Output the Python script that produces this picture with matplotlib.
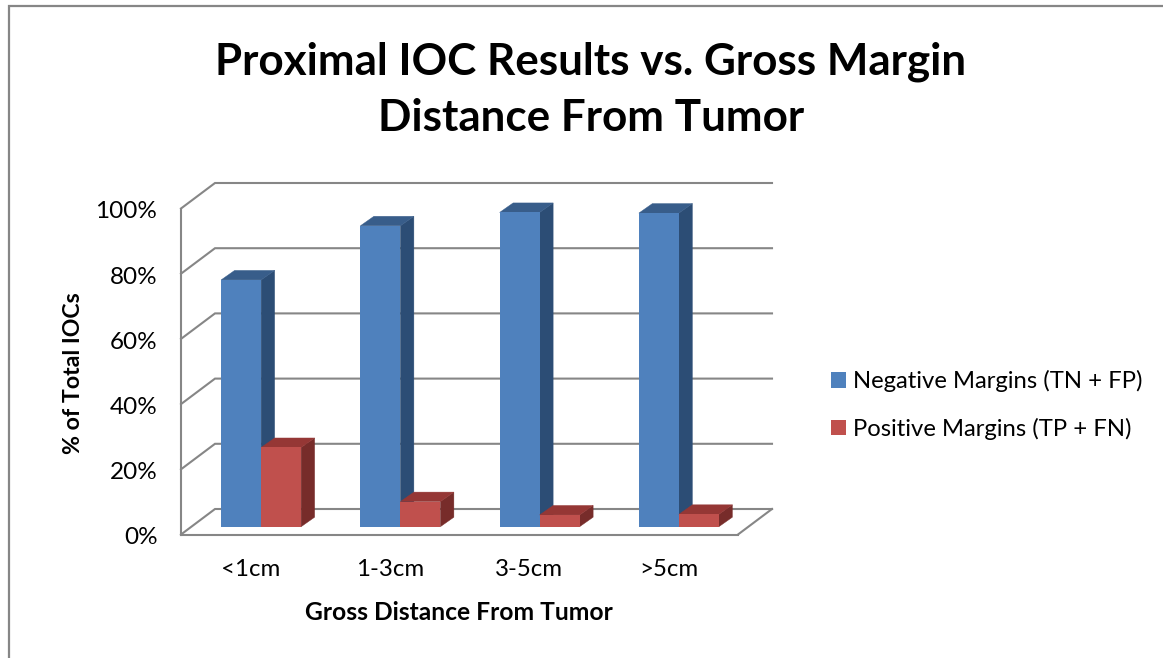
import matplotlib
matplotlib.use('Agg')
import matplotlib.pyplot as plt
from matplotlib.lines import Line2D
from matplotlib.patches import Polygon
from matplotlib.transforms import Affine2D

plt.rcParams['font.family'] = ['Lato', 'DejaVu Sans']

categories = ['<1cm', '1-3cm', '3-5cm', '>5cm']
negative = [75.7, 92.3, 96.4, 96.2]
positive = [24.3, 7.7, 3.6, 3.8]
y_ticks = [0, 20, 40, 60, 80, 100]
neg_label = 'Negative Margins (TN + FP)'
pos_label = 'Positive Margins (TP + FN)'

W, H = 1163, 658
GREY = '#868686'

fig = plt.figure(figsize=(W / 100, H / 100), dpi=100, facecolor='white')

# axes = the front plane of the fake 3d box
left, right, bottom, top = 181, 738, 534.5, 208.5
ax = fig.add_axes([left / W, 1 - bottom / H, (right - left) / W, (bottom - top) / H])
ax.set_xlim(-0.5, 3.5)
ax.set_ylim(0, 100)
px_x = 4 / (right - left)
px_y = 100 / (bottom - top)

# depth offsets, pixels to data units
wall_dx, wall_dy = 34 * px_x, 25.5 * px_y
bar_dx, bar_dy = 10.5 * px_x, 7.8 * px_y
deep_x, deep_y = 13.5 * px_x, 9.5 * px_y
bar_w = 40 * px_x

for t in y_ticks:
    ax.plot([-0.5, -0.5 + wall_dx, 3.5 + wall_dx], [t, t + wall_dy, t + wall_dy],
            color=GREY, lw=1.5, clip_on=False, zorder=1, solid_joinstyle='miter')
ax.plot([3.5, 3.5 + wall_dx], [0, wall_dy], color=GREY, lw=1.5, clip_on=False, zorder=1)


def draw_bar(x, val, face, side, lid, z):
    x0 = x + bar_dx - bar_w if face == '#4F81BD' else x + bar_dx
    y0 = bar_dy
    y1 = bar_dy + val
    x1 = x0 + bar_w
    ax.add_patch(Polygon([(x1, y0), (x1 + deep_x, y0 + deep_y), (x1 + deep_x, y1 + deep_y), (x1, y1)],
                         closed=True, fc=side, ec=side, lw=0.3, clip_on=False, zorder=z))
    ax.add_patch(Polygon([(x0, y1), (x0 + deep_x, y1 + deep_y), (x1 + deep_x, y1 + deep_y), (x1, y1)],
                         closed=True, fc=lid, ec=lid, lw=0.3, clip_on=False, zorder=z))
    return ax.bar(x0, val, width=bar_w, bottom=y0, align='edge', color=face, clip_on=False, zorder=z + 0.5)


for i in range(len(categories)):
    b1 = draw_bar(i, negative[i], '#4F81BD', '#2C4D75', '#385D8A', 2 + i)
    b2 = draw_bar(i, positive[i], '#C0504D', '#772C2A', '#953735', 2 + i + 0.6)

ax.set_xticks(range(len(categories)))
ax.set_xticklabels(categories, fontsize=17.3, color='black')
ax.set_yticks(y_ticks)
ax.set_yticklabels([str(t) + '%' for t in y_ticks], fontsize=17.5, color='black')
ax.tick_params(axis='x', length=0, pad=18)
ax.tick_params(axis='y', length=0, pad=17)
for lab in ax.get_yticklabels():
    lab.set_transform(lab.get_transform() + Affine2D().translate(0, -1.5))
for s in ['top', 'right']:
    ax.spines[s].set_visible(False)
for s in ['left', 'bottom']:
    ax.spines[s].set_color(GREY)
    ax.spines[s].set_linewidth(1.5)
ax.patch.set_alpha(0)

fig.text(591 / W, 1 - 90 / H, 'Proximal IOC Results vs. Gross Margin\nDistance From Tumor',
         ha='center', va='center', fontsize=31.7, fontweight='bold', linespacing=1.47)
fig.text(459 / W, 1 - 613 / H, 'Gross Distance From Tumor', ha='center', va='center',
         fontsize=17.7, fontweight='bold')
fig.text(73 / W, 1 - 373 / H, '% of Total IOCs', ha='center', va='center', rotation=90,
         fontsize=16.7, fontweight='bold')

fig.legend([b1, b2], [neg_label, pos_label], loc='center left',
           bbox_to_anchor=(831 / W, 1 - 405 / H), borderaxespad=0, borderpad=0,
           frameon=False, fontsize=17.2, handlelength=0.63, handleheight=0.63,
           handletextpad=0.29, labelspacing=1.08)

# chart frame, only top and left show
fig.add_artist(Line2D([9 / W, 9 / W, 1], [0, 1 - 6 / H, 1 - 6 / H], color=GREY, lw=1.6,
                      solid_joinstyle='miter'))

fig.savefig('out.png', dpi=100)
